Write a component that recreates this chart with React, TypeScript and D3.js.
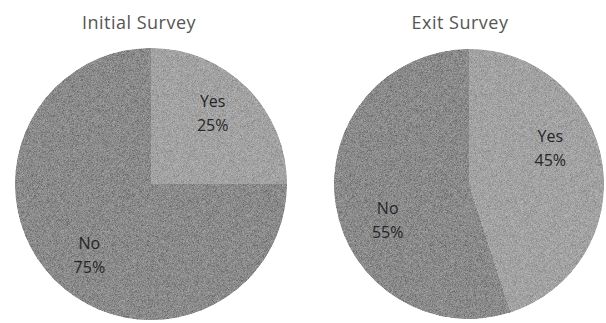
import React from "react";
import * as d3 from "d3";

const categories = ["Yes", "No"];
const initialValues = [25, 75];
const exitValues = [45, 55];
const titles = ["Initial Survey", "Exit Survey"];

const W = 606;
const H = 323;
const colors: Record<string, string> = { Yes: "#a2a2a2", No: "#8a8a8a" };
const font = "'Open Sans', sans-serif";

function Pie({ cx, cy, r, values, title, fid, labelR, labelShift, titleDx }: any) {
  const data = categories.map((c, i) => ({ c, v: values[i] }));
  const pie = d3.pie<any>().value((d: any) => d.v).sort(null);
  const arcs = pie(data);
  const arc = d3.arc<any>().innerRadius(0).outerRadius(r);
  const labelArc = d3.arc<any>().innerRadius(labelR).outerRadius(labelR);
  const sh = (labelShift * Math.PI) / 180;
  return (
    <g>
      <text x={cx + titleDx} y={29} textAnchor="middle" fontFamily={font} fontSize={18} fill="#555" letterSpacing={0.5}>
        {title}
      </text>
      <g transform={`translate(${cx},${cy})`}>
        {arcs.map((a, i) => (
          <path key={i} d={arc(a) || ""} fill={colors[a.data.c]} filter={`url(#${fid})`} />
        ))}
        {arcs.map((a, i) => {
          const [x, y] = labelArc.centroid({ ...a, startAngle: a.startAngle + sh, endAngle: a.endAngle + sh });
          return (
            <text key={"t" + i} x={x} y={y} textAnchor="middle" fontFamily={font} fontSize={16} fill="#262626">
              <tspan x={x} dy={-6}>{a.data.c}</tspan>
              <tspan x={x} dy={24}>{a.data.v + "%"}</tspan>
            </text>
          );
        })}
      </g>
    </g>
  );
}

export default function App() {
  return (
    <svg width={W} height={H} style={{ position: "absolute", left: 0, top: 0, background: "#fff" }}>
      <defs>
        <filter id="noise" x="0" y="0" width="100%" height="100%" filterUnits="objectBoundingBox">
          <feTurbulence type="fractalNoise" baseFrequency="1.8" numOctaves="1" seed="5" result="n" />
          <feColorMatrix in="n" type="matrix" values="1 0 0 0 0  1 0 0 0 0  1 0 0 0 0  0 0 0 0 1" result="g" />
          <feComposite in="SourceGraphic" in2="g" operator="arithmetic" k1="0" k2="1" k3="0.45" k4="-0.225" result="mix" />
          <feComposite in="mix" in2="SourceGraphic" operator="in" />
        </filter>
      </defs>
      <Pie cx={151} cy={184} r={136} values={initialValues} title={titles[0]} fid="noise" labelR={94} labelShift={-4} titleDx={-12} />
      <Pie cx={469} cy={184} r={135} values={exitValues} title={titles[1]} fid="noise" labelR={89} labelShift={-15} titleDx={-9} />
    </svg>
  );
}
